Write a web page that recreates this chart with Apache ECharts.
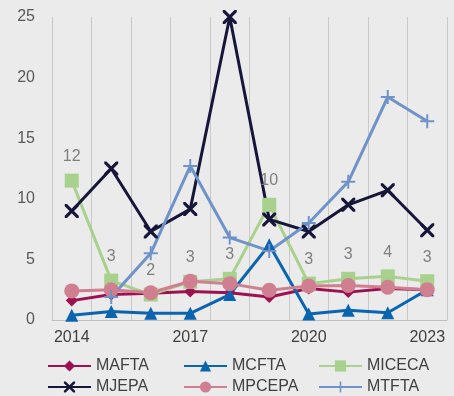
<!DOCTYPE html>
<html><head><meta charset="utf-8">
<script src="https://cdn.jsdelivr.net/npm/echarts@6/dist/echarts.min.js"></script>
<style>html,body{margin:0;padding:0;background:#ebebeb;}#c{width:454px;height:396px;}</style>
</head><body><div id="c"></div>
<script>
var years = ['2014','2015','2016','2017','2018','2019','2020','2021','2022','2023'];
var MAFTA  = [1.6, 2.1, 2.2, 2.35, 2.25, 1.9, 2.6, 2.3, 2.6, 2.5];
var MCFTA  = [0.4, 0.7, 0.55, 0.55, 2.1, 6.2, 0.5, 0.8, 0.6, 2.5];
var MICECA = [11.5, 3.25, 2.1, 3.15, 3.4, 9.5, 3.0, 3.4, 3.6, 3.2];
var MJEPA  = [9.0, 12.5, 7.3, 9.15, 25.0, 8.3, 7.3, 9.5, 10.7, 7.4];
var MPCEPA = [2.4, 2.5, 2.25, 3.2, 3.0, 2.45, 2.8, 2.85, 2.7, 2.5];
var MTFTA  = [null, 1.9, 5.5, 12.7, 6.8, 5.7, 8.0, 11.4, 18.4, 16.4];
var yTicks = [0, 5, 10, 15, 20, 25];

var crossPath = 'path://M0,0 L1.6,0 L5,3.4 L8.4,0 L10,0 L10,1.6 L6.6,5 L10,8.4 L10,10 L8.4,10 L5,6.6 L1.6,10 L0,10 L0,8.4 L3.4,5 L0,1.6 Z';
var plusPath = 'path://M4.3,0 H5.7 V4.3 H10 V5.7 H5.7 V10 H4.3 V5.7 H0 V4.3 H4.3 Z';
var FONT = 'Liberation Sans, Arial, sans-serif';

function mk(name, data, color, symbol, size, extra) {
  var s = {
    name: name, type: 'line', data: data, symbol: symbol, symbolSize: size,
    lineStyle: {color: color, width: 3}, itemStyle: {color: color},
    connectNulls: false, animation: false
  };
  if (extra) for (var k in extra) s[k] = extra[k];
  return s;
}
function lg(name, left, top) {
  return {data: [name], left: left, top: top, itemWidth: 43, itemHeight: 14, itemGap: 0,
    padding: 0, textStyle: {color: '#404040', fontSize: 16, fontFamily: FONT}};
}

var chart = echarts.init(document.getElementById('c'), null, {renderer: 'canvas'});
chart.setOption({
  backgroundColor: '#ebebeb',
  animation: false,
  grid: {left: 52, right: 7, top: 17, bottom: 76, containLabel: false},
  xAxis: {
    type: 'category', data: years, boundaryGap: true,
    axisLine: {show: true, lineStyle: {color: '#bfbfbf', width: 1}},
    axisTick: {show: false},
    axisLabel: {interval: 2, color: '#404040', fontSize: 16, margin: 10, fontFamily: FONT},
    splitLine: {show: true, interval: 0, lineStyle: {color: '#c9c9c9', width: 1}}
  },
  yAxis: {
    type: 'value', min: yTicks[0], max: yTicks[yTicks.length-1], interval: 5,
    axisLine: {show: false}, axisTick: {show: false},
    axisLabel: {color: '#595959', fontSize: 16, margin: 17, fontFamily: FONT},
    splitLine: {show: false}
  },
  legend: [
    lg('MAFTA', 47, 358), lg('MCFTA', 183, 358), lg('MICECA', 318, 358),
    lg('MJEPA', 47, 379), lg('MPCEPA', 183, 379), lg('MTFTA', 318, 379)
  ],
  series: [
    mk('MAFTA', MAFTA, '#9e1150', 'diamond', 12),
    mk('MCFTA', MCFTA, '#0a64b0', 'triangle', 13),
    mk('MICECA', MICECA, '#a9d18e', 'rect', 14, {
      label: {show: true, position: 'top', distance: 9, color: '#7f7f7f', fontSize: 16,
        fontFamily: FONT,
        formatter: function(p){ return Math.round(p.value); }}
    }),
    mk('MJEPA', MJEPA, '#16163a', crossPath, 14),
    mk('MPCEPA', MPCEPA, '#cf7f8f', 'circle', 15),
    mk('MTFTA', MTFTA, '#6f93c9', plusPath, 14)
  ]
});
</script></body></html>
